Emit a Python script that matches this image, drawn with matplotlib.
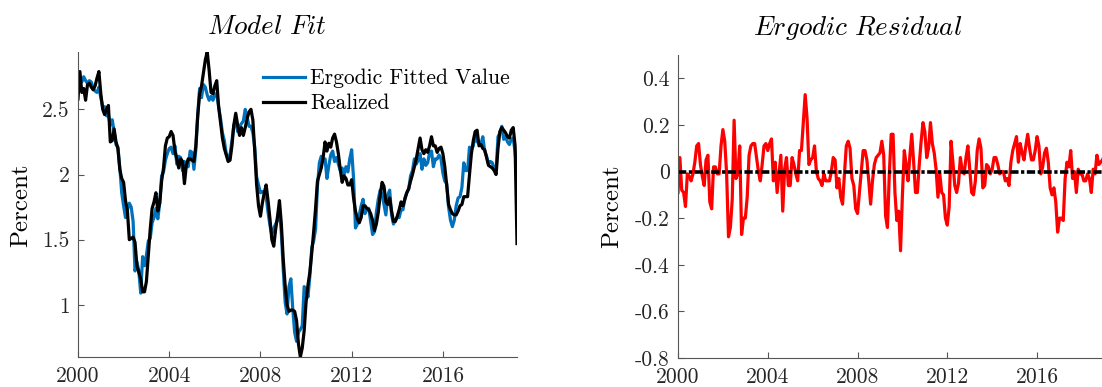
import matplotlib
matplotlib.use('Agg')
import matplotlib.pyplot as plt
from matplotlib.ticker import FixedLocator, FuncFormatter
import numpy as np

# monthly observations, January 2000 onward (one row per year)
realized = [
    2.58, 2.79, 2.63, 2.66, 2.57, 2.69, 2.70, 2.67, 2.65, 2.68, 2.74, 2.79,
    2.62, 2.50, 2.46, 2.50, 2.53, 2.25, 2.26, 2.35, 2.25, 2.20, 2.04, 1.97,
    1.94, 1.80, 1.72, 1.50, 1.51, 1.52, 1.48, 1.30, 1.25, 1.20, 1.10, 1.10,
    1.18, 1.38, 1.58, 1.74, 1.79, 1.86, 1.72, 1.78, 1.95, 2.05, 2.22, 2.28,
    2.29, 2.33, 2.30, 2.18, 2.12, 2.05, 2.12, 2.10, 1.93, 2.07, 2.12, 2.12,
    2.11, 2.10, 2.22, 2.45, 2.62, 2.68, 2.78, 2.88, 2.94, 2.80, 2.63, 2.62,
    2.68, 2.72, 2.52, 2.40, 2.28, 2.20, 2.15, 2.10, 2.11, 2.22, 2.38, 2.47,
    2.38, 2.30, 2.36, 2.30, 2.36, 2.43, 2.48, 2.50, 2.42, 2.18, 1.92, 1.76,
    1.68, 1.78, 1.86, 1.92, 1.80, 1.66, 1.50, 1.45, 1.58, 1.68, 1.80, 1.62,
    1.35, 1.15, 1.00, 0.95, 0.96, 0.96, 0.95, 0.88, 0.70, 0.60, 0.67, 0.80,
    1.02, 1.15, 1.25, 1.40, 1.56, 1.74, 1.95, 2.00, 2.05, 2.13, 2.25, 2.18,
    2.24, 2.21, 2.28, 2.31, 2.25, 2.16, 2.04, 1.94, 1.99, 1.97, 1.92, 1.92,
    1.96, 1.82, 1.72, 1.66, 1.63, 1.67, 1.76, 1.76, 1.74, 1.73, 1.70, 1.65,
    1.57, 1.62, 1.71, 1.84, 1.94, 1.91, 1.79, 1.77, 1.82, 1.72, 1.64, 1.64,
    1.68, 1.73, 1.79, 1.76, 1.81, 1.86, 1.89, 1.95, 2.00, 2.06, 2.12, 2.20,
    2.28, 2.19, 2.16, 2.19, 2.17, 2.22, 2.29, 2.22, 2.22, 2.17, 2.20, 2.21,
    2.16, 2.06, 1.92, 1.77, 1.73, 1.70, 1.69, 1.69, 1.72, 1.76, 1.77, 1.83,
    1.83, 1.83, 2.00, 2.16, 2.26, 2.33, 2.34, 2.22, 2.23, 2.20, 2.19, 2.13,
    2.07, 2.06, 2.05, 2.03, 2.00, 2.20, 2.33, 2.36, 2.34, 2.32, 2.29, 2.28,
    2.34, 2.36, 2.22, 1.47,
]

residual = [
    -0.09, 0.06, -0.08, -0.09, -0.15, -0.01, -0.02, -0.04, -0.01, 0.04, 0.11, 0.12,
    0.03, -0.02, -0.06, 0.05, 0.07, -0.13, -0.16, 0.02, 0.02, -0.01, -0.01, 0.11,
    0.18, 0.13, -0.01, -0.28, -0.24, -0.12, 0.22, -0.03, -0.01, 0.11, -0.27, -0.20,
    -0.20, -0.11, 0.07, 0.11, 0.12, 0.12, 0.06, 0.00, -0.04, 0.03, 0.11, 0.12,
    0.09, 0.12, 0.14, -0.04, 0.04, -0.09, -0.01, 0.07, -0.17, 0.01, 0.06, -0.06,
    -0.06, 0.06, 0.03, -0.01, -0.04, 0.09, 0.09, 0.21, 0.33, 0.23, 0.03, 0.05,
    0.06, 0.11, 0.00, -0.03, -0.04, -0.06, -0.01, -0.04, -0.04, -0.04, 0.00, 0.06,
    0.05, -0.07, -0.03, -0.11, -0.14, -0.01, 0.11, 0.13, 0.10, -0.03, -0.06, -0.16,
    -0.18, -0.09, 0.00, 0.09, 0.09, 0.05, -0.04, -0.14, -0.04, 0.03, 0.06, 0.07,
    0.08, 0.13, 0.07, -0.19, -0.24, -0.01, 0.16, 0.16, -0.09, -0.21, -0.17, -0.34,
    -0.10, 0.09, 0.03, -0.04, 0.07, 0.16, 0.04, -0.09, -0.09, 0.03, 0.13, 0.21,
    0.17, 0.06, 0.10, 0.21, 0.12, 0.08, 0.01, -0.11, -0.01, -0.09, -0.10, -0.20,
    -0.23, -0.15, 0.13, 0.04, -0.06, -0.09, -0.05, 0.06, 0.00, -0.01, 0.06, 0.11,
    0.01, -0.09, -0.10, -0.04, 0.09, 0.14, 0.10, -0.07, -0.06, 0.03, 0.02, -0.01,
    0.01, 0.06, 0.06, 0.03, -0.01, 0.00, 0.00, -0.04, -0.03, -0.06, 0.04, 0.09,
    0.12, 0.15, 0.04, 0.12, 0.08, 0.05, 0.11, 0.16, 0.10, 0.05, 0.05, 0.09,
    0.15, 0.11, -0.01, 0.02, 0.08, 0.10, 0.04, -0.07, -0.10, -0.07, -0.13, -0.26,
    -0.20, -0.20, -0.21, -0.03, 0.04, 0.02, 0.09, -0.03, 0.00, -0.09, 0.01, -0.01,
    -0.01, -0.04, -0.04, -0.01, -0.03, -0.09, 0.01, -0.01, 0.07, 0.03, 0.04, 0.05,
    0.07, 0.08, 0.05, -0.53,
]

start_year = 2000
year_ticks = [2000, 2004, 2008, 2012, 2016]
fit_ticks = [1, 1.5, 2, 2.5]
resid_ticks = [-0.8, -0.6, -0.4, -0.2, 0, 0.2, 0.4]
resid_lim = (-0.8, 0.5)

realized = np.array(realized)
residual = np.array(residual)
fitted = realized - residual
dates = start_year + np.arange(len(realized)) / 12.0

plt.rcParams['font.family'] = 'cmr10'
plt.rcParams['mathtext.fontset'] = 'cm'
plt.rcParams['axes.unicode_minus'] = False
plt.rcParams['axes.formatter.use_mathtext'] = True

W, H = 1102, 387
fig = plt.figure(figsize=(W / 100, H / 100), dpi=100)
ax1 = fig.add_axes([78 / W, 30 / H, 439 / W, 305 / H])
ax2 = fig.add_axes([678 / W, 29 / H, 432 / W, 303 / H])

fmt = FuncFormatter(lambda v, pos: '%g' % round(v, 2))


def style_axis(ax):
    for side in ['top', 'right']:
        ax.spines[side].set_visible(False)
    for side in ['left', 'bottom']:
        ax.spines[side].set_color('#555555')
        ax.spines[side].set_linewidth(0.8)
    ax.tick_params(direction='in', length=4.5, width=0.8, color='#555555',
                   labelcolor='#262626', labelsize=15.5)
    ax.tick_params(axis='y', pad=6)
    ax.tick_params(axis='x', pad=7)
    ax.xaxis.set_major_locator(FixedLocator(year_ticks))
    ax.xaxis.set_major_formatter(FuncFormatter(lambda v, pos: '%d' % v))
    ax.yaxis.set_major_formatter(fmt)
    ax.set_xlim(dates[0], dates[-1])


# left: model fit
ax1.plot(dates, fitted, color='#0072BD', lw=2.3, label='Ergodic Fitted Value')
ax1.plot(dates, realized, color='black', lw=2.3, label='Realized')
style_axis(ax1)
ax1.yaxis.set_major_locator(FixedLocator(fit_ticks))
lo = min(fitted.min(), realized.min())
hi = max(fitted.max(), realized.max())
ax1.set_ylim(lo, hi)
ax1.text(0.43, 1 + 18 / 305, r'$\mathit{Model\ Fit}$', transform=ax1.transAxes,
         ha='center', va='baseline', fontsize=19.5)
ax1.legend(loc='upper left', bbox_to_anchor=(0.421, 0.945), frameon=False,
           fontsize=15.5, handlelength=1.95, handletextpad=0.25, labelspacing=0.25,
           borderpad=0, borderaxespad=0)
fig.text(21 / W, 1 - 205 / H, 'Percent', rotation=90, ha='center', va='center',
         fontsize=18)

# right: residual
ax2.plot(dates, residual, color='red', lw=2.3)
ax2.axhline(0, color='black', lw=2.6, linestyle=(0, (2.3, 0.7, 0.9, 0.7)))
style_axis(ax2)
ax2.yaxis.set_major_locator(FixedLocator(resid_ticks))
ax2.set_ylim(*resid_lim)
ax2.text(0.4155, 1 + 20.5 / 303, r'$\mathit{Ergodic\ Residual}$', transform=ax2.transAxes,
         ha='center', va='baseline', fontsize=19.5)
fig.text(612.5 / W, 1 - 206.5 / H, 'Percent', rotation=90, ha='center', va='center',
         fontsize=18)

fig.savefig('out.png', dpi=100)
